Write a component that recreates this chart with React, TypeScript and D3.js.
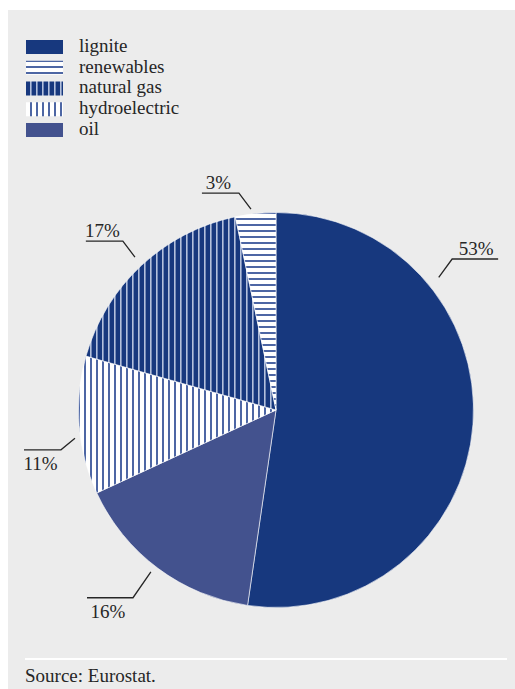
import React from "react";
import * as d3 from "d3";

// ---- data ----
const categories = ["lignite", "renewables", "natural gas", "hydroelectric", "oil"];
const values = [52.3, 3.3, 17.3, 11.3, 15.8];
const valueLabels = ["53%", "3%", "17%", "11%", "16%"];
const pieOrder = ["lignite", "oil", "hydroelectric", "natural gas", "renewables"];
const sourceText = "Source: Eurostat.";

// ---- layout (positions/styles, not data) ----
const W = 515;
const H = 689;
const cx = 276;
const cy = 410;
const R = 197.5;
const FONT = "Liberation Serif, Times New Roman, Times, serif";
const TEXT = "#262626";

const fills: Record<string, string> = {
  lignite: "#17387e",
  renewables: "url(#pRenew)",
  "natural gas": "url(#pGas)",
  hydroelectric: "url(#pHydro)",
  oil: "#43528e",
};

// leader layout: inner point (angle deg clockwise from top, radius), elbow point, horizontal length
const leaders: Record<string, { a1: number; r1: number; a2: number; r2: number; len: number; below: boolean }> = {
  lignite: { a1: 50.8, r1: 210, a2: 49.4, r2: 232, len: 46, below: false },
  oil: { a1: 217.7, r1: 204.6, a2: 217.3, r2: 236, len: 46, below: true },
  hydroelectric: { a1: 262, r1: 203, a2: 259.5, r2: 218.7, len: 37, below: true },
  "natural gas": { a1: 317.3, r1: 208, a2: 317.8, r2: 228, len: 37, below: false },
  renewables: { a1: 352.9, r1: 202.5, a2: 350.3, r2: 220, len: 37, below: false },
};

const idx = (c: string) => categories.indexOf(c);

export default function App() {
  const pieData = d3
    .pie<string>()
    .sort(null)
    .value((c) => values[idx(c)])(pieOrder);
  const arc = d3.arc<d3.PieArcDatum<string>>().innerRadius(0).outerRadius(R);

  const pt = (deg: number, r: number) => {
    const a = (deg * Math.PI) / 180;
    return [cx + r * Math.sin(a), cy - r * Math.cos(a)];
  };

  const legendY = d3.scaleBand<string>().domain(categories).range([40, 137]).paddingInner(0.325);

  const textStyle = { fontFamily: FONT, fontSize: "19px", fill: TEXT } as React.CSSProperties;

  return (
    <svg
      width={W}
      height={H}
      style={{ position: "absolute", left: 0, top: 0 }}
      xmlns="http://www.w3.org/2000/svg"
    >
      <defs>
        <pattern id="pRenew" patternUnits="userSpaceOnUse" width={6} height={6}>
          <rect width={6} height={6} fill="#ffffff" />
          <rect x={0} y={0} width={6} height={2} fill="#4d66a4" />
        </pattern>
        <pattern id="pGas" patternUnits="userSpaceOnUse" width={6} height={6}>
          <rect width={6} height={6} fill="#17387e" />
          <rect x={0} y={0} width={1.6} height={6} fill="#b3c0dc" />
        </pattern>
        <pattern id="pHydro" patternUnits="userSpaceOnUse" width={6} height={6}>
          <rect width={6} height={6} fill="#ffffff" />
          <rect x={0} y={0} width={2} height={6} fill="#4d66a4" />
        </pattern>
      </defs>
      <rect x={8} y={10} width={W - 8} height={H - 10} fill="#ececec" />

      {/* legend */}
      {categories.map((c) => (
        <g key={c}>
          <rect x={26} y={legendY(c)!} width={37} height={legendY.bandwidth()} fill={fills[c]} />
          <text x={79} y={legendY(c)! + 12} style={textStyle}>
            {c}
          </text>
        </g>
      ))}

      {/* pie */}
      <g transform={`translate(${cx},${cy})`}>
        {pieData.map((d) => (
          <path key={d.data} d={arc(d)!} fill={fills[d.data]} stroke="#ffffff" strokeWidth={0.6} />
        ))}
      </g>

      {/* labels */}
      {pieData.map((d) => {
        const L = leaders[d.data];
        const [x1, y1] = pt(L.a1, L.r1);
        const [x2, y2] = pt(L.a2, L.r2);
        const right = x2 > cx;
        const x3 = right ? x2 + L.len : x2 - L.len;
        const tx = (x2 + x3) / 2 + (right ? 1 : -2);
        const ty = L.below ? y2 + 20 : y2 - 4;
        return (
          <g key={d.data}>
            <polyline
              points={`${x1},${y1} ${x2},${y2} ${x3},${y2}`}
              fill="none"
              stroke={TEXT}
              strokeWidth={1.3}
            />
            <text x={tx} y={ty} textAnchor="middle" style={textStyle}>
              {valueLabels[idx(d.data)]}
            </text>
          </g>
        );
      })}

      {/* footer */}
      <line x1={25} x2={507} y1={659} y2={659} stroke="#ffffff" strokeWidth={2} />
      <text x={25} y={682} style={textStyle}>
        {sourceText}
      </text>
    </svg>
  );
}
